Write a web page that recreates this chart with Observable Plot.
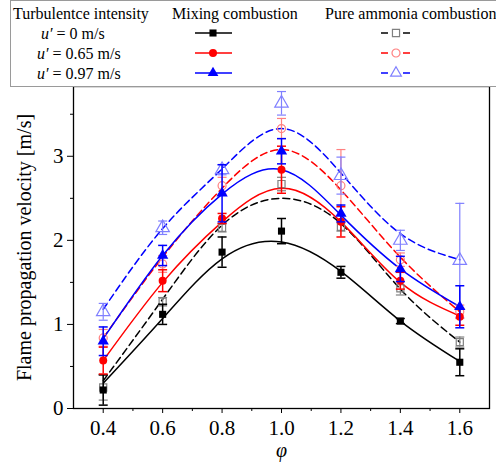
<!DOCTYPE html>
<html><head><meta charset="utf-8">
<script src="https://cdn.jsdelivr.net/npm/d3@7"></script>
<script src="https://cdn.jsdelivr.net/npm/@observablehq/plot@0.6"></script>
<style>
body{margin:0;background:#fff;}
#wrap{position:relative;width:496px;height:468px;overflow:hidden;background:#fff;}
#wrap svg, #wrap svg text, #wrap svg tspan{font-family:"Liberation Serif","Times New Roman",serif !important;font-variant-numeric:normal !important;}
#legend{position:absolute;left:0;top:0;}
</style></head><body><div id="wrap"></div>
<script>
// ---- data ----
const phi = [0.4, 0.6, 0.8, 1.0, 1.2, 1.4, 1.6];
const xMinor = [0.5, 0.7, 0.9, 1.1, 1.3, 1.5];
const yMajor = [0, 1, 2, 3];
const yMinor = [0.5, 1.5, 2.5, 3.5];

const seriesLabels = ["0", "0.65", "0.97"];
const groupLabels = ["Mixing combustion", "Pure ammonia combustion"];
const legendTitle = "Turbulentce intensity";

// Mixing combustion (filled markers, solid fitted lines)
const mix0     = [0.22, 1.12, 1.86, 2.11, 1.62, 1.04, 0.55];
const mix0Err  = [0.18, 0.12, 0.18, 0.15, 0.07, 0.03, 0.16];
const mix065   = [0.57, 1.52, 2.26, 2.84, 2.22, 1.52, 1.09];
const mix065Err= [0.16, 0.13, 0.06, 0.28, 0.18, 0.10, 0.10];
const mix097   = [0.80, 1.82, 2.56, 3.06, 2.32, 1.66, 1.21];
const mix097Err= [0.17, 0.12, 0.34, 0.15, 0.10, 0.15, 0.25];
const mix0Fit   = [0.30, 1.07, 1.78, 1.98, 1.63, 1.04, 0.56];
const mix065Fit = [0.57, 1.50, 2.22, 2.62, 2.22, 1.50, 1.10];
const mix097Fit = [0.83, 1.82, 2.55, 2.84, 2.30, 1.66, 1.21];

// Pure ammonia combustion (hollow markers, dashed fitted lines)
const pure0     = [0.25, 1.27, 2.15, 2.67, 2.16, 1.43, 0.79];
const pure0Err  = [0.15, 0.05, 0.05, 0.08, 0.05, 0.08, 0.06];
const pure065   = [0.84, 1.72, 2.65, 3.33, 2.65, 1.77, 1.15];
const pure065Err= [0.10, 0.10, 0.10, 0.12, 0.43, 0.08, 0.08];
const pure097   = [1.15, 2.15, 2.84, 3.63, 2.77, 2.00, 1.76];
const pure097Err= [0.10, 0.08, 0.06, 0.14, 0.22, 0.12, 0.68];
const pure0Fit   = [0.33, 1.30, 2.18, 2.50, 2.20, 1.42, 0.79];
const pure065Fit = [0.84, 1.80, 2.62, 3.08, 2.60, 1.80, 1.15];
const pure097Fit = [1.18, 2.14, 2.85, 3.33, 2.80, 2.08, 1.77];

const colors = ["#000000", "#ff0000", "#0000ff"];
const lightColors = ["#808080", "#ff8080", "#8080ff"];
const symbols = ["square", "circle", "triangle"];

// ---- build ----
const FONT = "Liberation Serif";
const mixing = [[mix0, mix0Err, mix0Fit], [mix065, mix065Err, mix065Fit], [mix097, mix097Err, mix097Fit]];
const pure = [[pure0, pure0Err, pure0Fit], [pure065, pure065Err, pure065Fit], [pure097, pure097Err, pure097Fit]];
const toRows = (vals, errs) => phi.map((x, i) => ({x, y: vals[i], e: errs ? errs[i] : 0}));
const cap = {draw(ctx) { ctx.moveTo(-4.5, 0); ctx.lineTo(4.5, 0); }};

const marks = [];
// fitted curves
for (let k = 0; k < 3; k++) {
  marks.push(Plot.line(toRows(pure[k][2]), {x: "x", y: "y", stroke: colors[k], strokeWidth: 1.5, strokeDasharray: "7,4", curve: "natural"}));
  marks.push(Plot.line(toRows(mixing[k][2]), {x: "x", y: "y", stroke: colors[k], strokeWidth: 1.5, curve: "natural"}));
}
// pure ammonia error bars + hollow markers
for (let k = 0; k < 3; k++) {
  const r = toRows(pure[k][0], pure[k][1]);
  marks.push(Plot.ruleX(r, {x: "x", y1: d => d.y - d.e, y2: d => d.y + d.e, stroke: lightColors[k], strokeWidth: 1.2}));
  marks.push(Plot.dot(r, {x: "x", y: d => d.y + d.e, symbol: cap, r: 3, stroke: lightColors[k], strokeWidth: 1.2}));
  marks.push(Plot.dot(r, {x: "x", y: d => d.y - d.e, symbol: cap, r: 3, stroke: lightColors[k], strokeWidth: 1.2}));
  marks.push(Plot.dot(r, {x: "x", y: "y", symbol: symbols[k], r: k === 2 ? 5 : 4, fill: "none", stroke: lightColors[k], strokeWidth: 1.2}));
}
// mixing error bars + filled markers
for (let k = 0; k < 3; k++) {
  const r = toRows(mixing[k][0], mixing[k][1]);
  marks.push(Plot.ruleX(r, {x: "x", y1: d => d.y - d.e, y2: d => d.y + d.e, stroke: colors[k], strokeWidth: 1.5}));
  marks.push(Plot.dot(r, {x: "x", y: d => d.y + d.e, symbol: cap, r: 3, stroke: colors[k], strokeWidth: 1.5}));
  marks.push(Plot.dot(r, {x: "x", y: d => d.y - d.e, symbol: cap, r: 3, stroke: colors[k], strokeWidth: 1.5}));
  marks.push(Plot.dot(r, {x: "x", y: "y", symbol: symbols[k], r: k === 2 ? 4.2 : 4, fill: colors[k], stroke: "none"}));
}

const chart = Plot.plot({
  width: 496, height: 468,
  marginLeft: 73, marginRight: 7, marginTop: 86, marginBottom: 60,
  style: {fontFamily: FONT, color: "#000", background: "#fff"},
  x: {domain: [0.3, 1.7]},
  y: {domain: [0, 3.83]},
  marks: [
    ...marks,
    Plot.frame({stroke: "#000", strokeWidth: 1.3}),
    Plot.axisX({ticks: phi, tickFormat: d3.format(".1f"), tickSize: 5, tickPadding: 7, fontSize: 21, fontFamily: FONT, label: null}),
    Plot.axisX({ticks: xMinor, tickSize: 3, tickFormat: () => "", label: null}),
    Plot.axisY({ticks: yMajor, tickSize: 6, tickPadding: 4, tickFormat: "d", fontSize: 21, fontFamily: FONT, label: null}),
    Plot.axisY({ticks: yMinor, tickSize: 3, tickFormat: () => "", label: null}),
    Plot.text(["φ"], {frameAnchor: "bottom", dy: 48, fontSize: 20, fontStyle: "italic", fontFamily: FONT}),
    Plot.text(["Flame propagation velocity [m/s]"], {frameAnchor: "left", textAnchor: "middle", rotate: -90, dx: -49, fontSize: 20, fontFamily: FONT})
  ]
});
document.getElementById("wrap").appendChild(chart);

// ---- legend box on top ----
const lg = d3.select("#wrap").append("svg").attr("id", "legend")
  .attr("width", 496).attr("height", 88)
  .style("font-size", "16px");
lg.append("rect").attr("x", 10.5).attr("y", 0.5).attr("width", 500).attr("height", 86)
  .attr("fill", "#fff").attr("stroke", "#9a9a9a").attr("stroke-width", 1);
lg.append("text").attr("x", 13).attr("y", 19).text(legendTitle);
lg.append("text").attr("x", 172).attr("y", 19).text(groupLabels[0]);
lg.append("text").attr("x", 325).attr("y", 19).text(groupLabels[1]);
const rowY = [33, 53, 73];
const rowX = [41, 37, 37];
const sym = (name, size) => d3.symbol().type(name === "square" ? d3.symbolSquare : name === "circle" ? d3.symbolCircle : d3.symbolTriangle).size(size)();
for (let k = 0; k < 3; k++) {
  const t = lg.append("text").attr("x", rowX[k]).attr("y", rowY[k] + 6);
  t.append("tspan").attr("font-style", "italic").text("u′");
  t.append("tspan").text(" = " + seriesLabels[k] + " m/s");
  lg.append("line").attr("x1", 195).attr("x2", 232).attr("y1", rowY[k]).attr("y2", rowY[k]).attr("stroke", colors[k]).attr("stroke-width", 1.5);
  lg.append("path").attr("d", sym(symbols[k], Math.PI * 16)).attr("transform", `translate(213,${rowY[k]})`).attr("fill", colors[k]);
  lg.append("line").attr("x1", 381).attr("x2", 388).attr("y1", rowY[k]).attr("y2", rowY[k]).attr("stroke", colors[k]).attr("stroke-width", 1.5);
  lg.append("line").attr("x1", 403).attr("x2", 410).attr("y1", rowY[k]).attr("y2", rowY[k]).attr("stroke", colors[k]).attr("stroke-width", 1.5);
  lg.append("path").attr("d", sym(symbols[k], Math.PI * 16)).attr("transform", `translate(396,${rowY[k]})`)
    .attr("fill", "none").attr("stroke", lightColors[k]).attr("stroke-width", 1.2);
}
</script></body></html>
